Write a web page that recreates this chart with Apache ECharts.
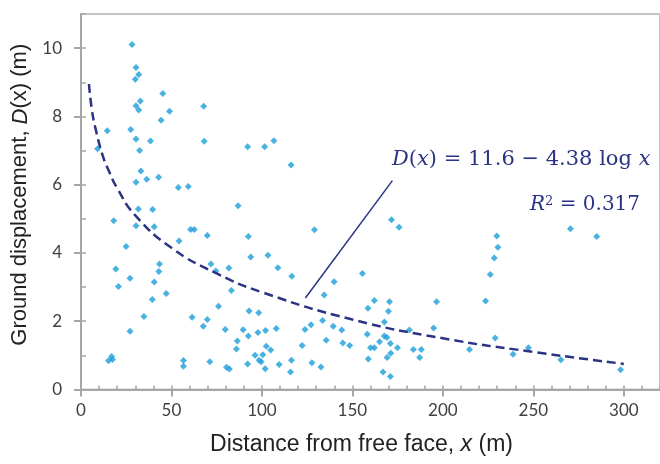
<!DOCTYPE html>
<html>
<head>
<meta charset="utf-8">
<script src="https://cdn.jsdelivr.net/npm/echarts@6/dist/echarts.min.js"></script>
<style>
  html, body { margin: 0; padding: 0; background: #fff; }
  #chart { width: 660px; height: 464px; }
</style>
</head>
<body>
<div id="chart"></div>
<script>
// distance from free face (m) and ground displacement (m)
const distance = [
  28.2, 30.4, 31.9, 30.0, 45.2, 32.8, 30.4, 31.9, 48.9, 67.8,
  44.3, 14.5, 27.5, 30.4, 38.4, 68.1, 92.1, 9.2, 32.4, 33.1,
  30.4, 36.3, 42.9, 53.8, 59.3, 86.8, 31.7, 39.6, 18.1, 30.4,
  40.5, 60.6, 62.6, 69.8, 54.2, 92.5, 24.9, 93.8, 19.2, 43.4,
  71.8, 81.7, 74.5, 43.0, 20.7, 27.1, 40.5, 39.4, 47.1, 34.8,
  27.1, 15.2, 16.9, 17.4, 56.6, 56.6, 83.1, 76.0, 61.4, 69.8,
  67.6, 79.7, 89.6, 92.9, 98.2, 92.5, 97.8, 86.4, 85.9, 96.2,
  98.4, 71.2, 80.4, 82.0, 92.1, 106.6, 101.5, 116.1, 171.6, 175.8,
  129.0, 103.3, 108.8, 116.5, 155.5, 139.9, 134.4, 162.1, 170.5, 158.6,
  169.9, 196.5, 167.7, 127.1, 133.5, 123.8, 139.4, 144.1, 107.9, 102.0,
  158.2, 167.6, 169.1, 181.5, 194.9, 165.0, 135.5, 144.7, 148.5, 122.2,
  171.0, 160.0, 162.1, 174.9, 183.7, 188.1, 171.2, 169.2, 187.2, 158.8,
  102.4, 104.8, 100.5, 99.6, 101.8, 109.5, 116.3, 127.6, 132.6, 115.8,
  166.9, 171.0, 270.5, 285.0, 229.8, 230.4, 228.4, 226.2, 223.6, 228.9,
  214.7, 238.8, 247.3, 265.2, 298.2
]
const displacement = [
  10.11, 9.43, 9.23, 9.09, 8.67, 8.45, 8.31, 8.19, 8.15, 8.30,
  7.89, 7.58, 7.62, 7.34, 7.28, 7.27, 7.11, 7.05, 7.00, 6.40,
  6.07, 6.16, 6.22, 5.92, 5.95, 5.38, 5.29, 5.27, 4.94, 4.80,
  4.77, 4.69, 4.69, 4.51, 4.35, 4.48, 4.19, 3.88, 3.53, 3.68,
  3.68, 3.56, 3.47, 3.46, 3.02, 3.26, 3.15, 2.64, 2.81, 2.14,
  1.71, 0.84, 0.97, 0.88, 0.85, 0.68, 2.90, 2.44, 2.12, 2.05,
  1.85, 1.76, 1.75, 2.30, 2.25, 1.57, 1.67, 1.42, 1.19, 1.00,
  0.86, 0.81, 0.65, 0.60, 0.75, 7.29, 7.11, 6.58, 4.97, 4.75,
  4.68, 3.93, 3.57, 3.32, 3.40, 3.16, 2.77, 2.61, 2.57, 2.38,
  2.29, 2.57, 1.98, 1.90, 2.02, 1.76, 1.85, 1.74, 1.79, 1.73,
  1.62, 1.57, 1.52, 1.74, 1.80, 1.40, 1.44, 1.36, 1.29, 1.29,
  1.35, 1.22, 1.22, 1.22, 1.17, 1.17, 1.06, 0.94, 0.94, 0.89,
  1.27, 1.16, 1.02, 0.81, 0.61, 0.73, 0.86, 0.78, 0.66, 0.51,
  0.51, 0.38, 4.71, 4.48, 4.50, 4.17, 3.85, 3.37, 2.59, 1.51,
  1.17, 1.03, 1.22, 0.87, 0.58
]

// dashed trend curve
const trendX = [4.4, 6, 8, 12, 15, 20, 30, 50, 75, 100, 150, 200, 250, 300]
const trendY = [8.95, 8.2, 7.65, 6.85, 6.45, 5.9, 5.1, 4.15, 3.4, 2.85, 2.05, 1.5, 1.1, 0.75]

// leader line from the curve to the equation
const leaderX = [124.0, 172.1]
const leaderY = [2.68, 6.12]

const navy = '#2b3383'
const axisGrey = '#a6a6a6'

const zip = (a, b) => a.map((v, i) => [v, b[i]])

const myChart = echarts.init(document.getElementById('chart'))

const tickLabel = {
  color: '#404040',
  fontFamily: 'Lato',
  fontSize: 17
}
const titleText = {
  color: '#222',
  fontFamily: 'Liberation Sans'
}

const option = {
  animation: false,
  grid: {
    left: 81,
    top: 14,
    width: 582,
    height: 375.5,
    show: true,
    borderColor: '#c4c4c4',
    borderWidth: 2
  },
  xAxis: [{
    type: 'value',
    min: 0,
    max: 320,
    interval: 50,
    position: 'bottom',
    axisLine: { onZero: false, lineStyle: { color: axisGrey, width: 2 } },
    axisTick: { length: 7, lineStyle: { color: axisGrey, width: 2 } },
    axisLabel: {
      ...tickLabel,
      margin: 13,
      showMaxLabel: false
    },
    splitLine: { show: false },
    name: 'Distance from free face, {i|x} (m)',
    nameLocation: 'middle',
    nameGap: 44,
    nameTextStyle: {
      ...titleText,
      fontSize: 23,
      padding: [0, 18, 0, 0],
      rich: { i: { ...titleText, fontSize: 23, fontStyle: 'italic' } }
    }
  }, {
    // copy of the scale, only for the short ticks drawn on the inside
    type: 'value',
    min: 0,
    max: 320,
    interval: 10,
    position: 'bottom',
    axisLine: { show: false, onZero: false },
    axisTick: { inside: true, length: 4, lineStyle: { color: axisGrey, width: 1.5 } },
    axisLabel: { show: false },
    splitLine: { show: false }
  }],
  yAxis: [{
    type: 'value',
    min: 0,
    max: 11,
    interval: 2,
    position: 'left',
    axisLine: { show: true, onZero: false, lineStyle: { color: axisGrey, width: 2 } },
    axisTick: { show: true, length: 7, lineStyle: { color: axisGrey, width: 2 } },
    axisLabel: { ...tickLabel, margin: 19, showMaxLabel: false },
    splitLine: { show: false },
    name: 'Ground displacement, {i|D}(x) (m)',
    nameLocation: 'middle',
    nameGap: 46,
    nameTextStyle: {
      ...titleText,
      fontSize: 22,
      padding: [0, 0, 0, 14],
      rich: { i: { ...titleText, fontSize: 22, fontStyle: 'italic' } }
    }
  }, {
    type: 'value',
    min: 0,
    max: 11,
    interval: 1,
    position: 'left',
    axisLine: { show: false, onZero: false },
    axisTick: { show: true, inside: true, length: 5, lineStyle: { color: axisGrey, width: 1.5 } },
    axisLabel: { show: false },
    splitLine: { show: false }
  }],
  graphic: [{
    type: 'text',
    left: 392,
    top: 149,
    style: {
      text: '{i|D}({i|x}) = 11.6 − 4.38 log {i|x}',
      fill: navy,
      font: '21px "DejaVu Serif"',
      rich: {
        i: { fontStyle: 'italic', fontFamily: 'DejaVu Serif', fontSize: 21, fill: navy }
      }
    }
  }, {
    type: 'text',
    left: 530,
    top: 195,
    style: {
      text: '{i|R}{sup|2} = 0.317',
      fill: navy,
      font: '20px "DejaVu Serif"',
      rich: {
        i: { fontStyle: 'italic', fontFamily: 'DejaVu Serif', fontSize: 20, fill: navy },
        sup: { fontFamily: 'DejaVu Serif', fontSize: 13, fill: navy, verticalAlign: 'top' }
      }
    }
  }],
  series: [{
    name: 'data',
    type: 'scatter',
    symbol: 'diamond',
    symbolSize: 7,
    itemStyle: { color: '#1d9fd9' },
    data: zip(distance, displacement),
    z: 3
  }, {
    name: 'trend',
    type: 'line',
    smooth: true,
    symbol: 'none',
    lineStyle: { color: navy, width: 2.5, type: [9, 5] },
    data: zip(trendX, trendY),
    z: 4
  }, {
    name: 'leader',
    type: 'line',
    symbol: 'none',
    lineStyle: { color: navy, width: 1.5 },
    data: zip(leaderX, leaderY),
    z: 4
  }]
}

option && myChart.setOption(option)
</script>
</body>
</html>
